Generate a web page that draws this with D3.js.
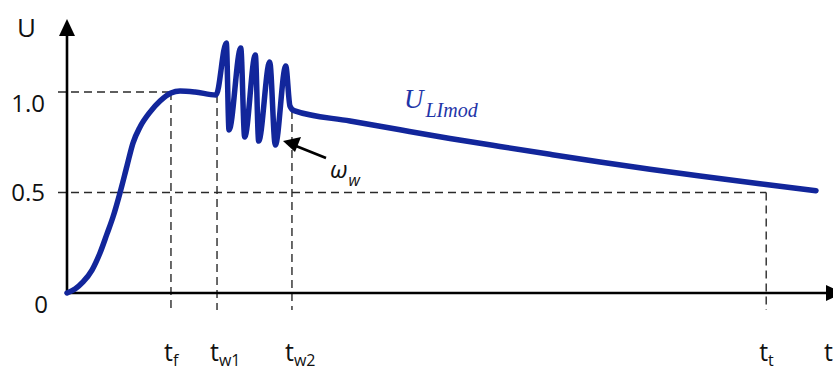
<!DOCTYPE html>
<html>
<head>
<meta charset="utf-8">
<script src="https://cdn.jsdelivr.net/npm/d3@7/dist/d3.min.js"></script>
<style>
  body { margin: 0; background: #fff; }
  svg { display: block; }
</style>
</head>
<body>
<svg id="chart" width="833" height="372"></svg>
<script>
// Voltage response U_LImod(t): rise, overshoot oscillation, then slow decay
const curveT = [0, 1.05, 2.11, 3.29, 4.34, 5.26, 6.05, 6.97, 7.89, 8.68, 9.61, 10.92, 12.24, 13.68, 14.87, 16.84, 19.61,
  20.96, 21.32, 22.86, 23.38, 24.78, 25.22, 26.67, 27.41, 28.78, 29.34, 29.87,
  37.24, 43.82, 50.39, 56.97, 63.55, 70.13, 76.71, 83.29, 91.97, 98.55];
const curveU = [0, 0.02, 0.055, 0.114, 0.199, 0.294, 0.378, 0.498, 0.632, 0.746, 0.826, 0.900, 0.955, 0.995, 1.005, 1.0, 0.985,
  1.244, 0.811, 1.219, 0.776, 1.184, 0.756, 1.149, 0.736, 1.129, 0.930, 0.907,
  0.856, 0.812, 0.769, 0.729, 0.690, 0.652, 0.616, 0.582, 0.540, 0.509];

// Characteristic instants on the time axis
const markerNames = ["f", "w1", "w2", "t"];
const markerT = [13.68, 19.74, 29.6, 92.0];
const markerTopU = [1.0, 0.985, 0.905, 0.5];

// Reference levels on the U axis
const levelU = [1.0, 0.5];
const levelEndT = [13.68, 92.0];
const yTickLabels = ["0", "0.5", "1.0"];
const yTickValues = [0, 0.5, 1.0];

const svg = d3.select("#chart");
const ox = 67, oy = 293;
const x = d3.scaleLinear().domain([0, 100]).range([ox, 827]);
const y = d3.scaleLinear().domain([0, 1]).range([oy, 92]);

const dash = "8,5";
const dashColor = "#2a2a2a";

// Dashed guide lines
levelU.forEach((u, i) => {
  svg.append("line")
    .attr("x1", ox - 9).attr("x2", x(levelEndT[i]))
    .attr("y1", y(u)).attr("y2", y(u))
    .attr("stroke", dashColor).attr("stroke-width", 1.4)
    .attr("stroke-dasharray", dash);
});
markerT.forEach((t, i) => {
  svg.append("line")
    .attr("x1", x(t)).attr("x2", x(t))
    .attr("y1", y(markerTopU[i])).attr("y2", oy + 17)
    .attr("stroke", dashColor).attr("stroke-width", 1.4)
    .attr("stroke-dasharray", dash);
});

// Axes with arrowheads
svg.append("line").attr("x1", ox).attr("y1", oy).attr("x2", ox).attr("y2", 32)
  .attr("stroke", "#000").attr("stroke-width", 2.6);
svg.append("path").attr("d", `M${ox},19 L${ox - 8},36 L${ox + 8},36 Z`).attr("fill", "#000");
svg.append("line").attr("x1", ox - 1).attr("y1", oy).attr("x2", 830).attr("y2", oy)
  .attr("stroke", "#000").attr("stroke-width", 2.6);
svg.append("path").attr("d", `M843,${oy} L826,${oy - 8} L826,${oy + 8} Z`).attr("fill", "#000");

// Curve
const line = d3.line()
  .x((d, i) => x(curveT[i]))
  .y((d, i) => y(curveU[i]))
  .curve(d3.curveMonotoneX);
svg.append("path")
  .attr("d", line(curveT))
  .attr("fill", "none")
  .attr("stroke", "#12269b")
  .attr("stroke-width", 5.5)
  .attr("stroke-linejoin", "round")
  .attr("stroke-linecap", "round");

const font = "'Open Sans', 'Liberation Sans', sans-serif";

// Axis labels
svg.append("text").attr("x", 17).attr("y", 37)
  .attr("font-family", font).attr("font-size", 26).attr("fill", "#111").text("U");

const tickOffset = { "0": [48, 20], "0.5": [45, 8], "1.0": [45, 20] };
yTickValues.forEach((v, i) => {
  const lab = yTickLabels[i];
  svg.append("text")
    .attr("x", tickOffset[lab][0]).attr("y", y(v) + tickOffset[lab][1])
    .attr("text-anchor", "end")
    .attr("font-family", font).attr("font-size", 24).attr("fill", "#111")
    .text(lab);
});

// Time markers on the axis
markerT.forEach((t, i) => {
  const tx = svg.append("text")
    .attr("x", x(t) - 7).attr("y", 361)
    .attr("font-family", font).attr("font-size", 25).attr("fill", "#111");
  tx.append("tspan").text("t");
  tx.append("tspan").attr("font-size", 16).attr("dy", 5).text(markerNames[i]);
});
svg.append("text").attr("x", 824).attr("y", 361)
  .attr("font-family", font).attr("font-size", 25).attr("fill", "#111").text("t");

// Curve label
const ul = svg.append("text").attr("x", 404).attr("y", 108)
  .attr("font-family", "'Liberation Serif', serif").attr("font-style", "italic")
  .attr("font-size", 27).attr("fill", "#1f35a8");
ul.append("tspan").text("U");
ul.append("tspan").attr("font-size", 20).attr("dy", 9).attr("dx", 2).text("LImod");

// Oscillation frequency annotation
svg.append("line").attr("x1", 326).attr("y1", 158).attr("x2", 296).attr("y2", 146)
  .attr("stroke", "#000").attr("stroke-width", 2.6);
svg.append("path").attr("d", "M283,141 L301,137 L295,152 Z").attr("fill", "#000");
const om = svg.append("text").attr("x", 330).attr("y", 178)
  .attr("font-family", font).attr("font-style", "italic")
  .attr("font-size", 24).attr("fill", "#111");
om.append("tspan").text("ω");
om.append("tspan").attr("font-size", 16).attr("dy", 8).attr("dx", 1).text("w");
</script>
</body>
</html>
